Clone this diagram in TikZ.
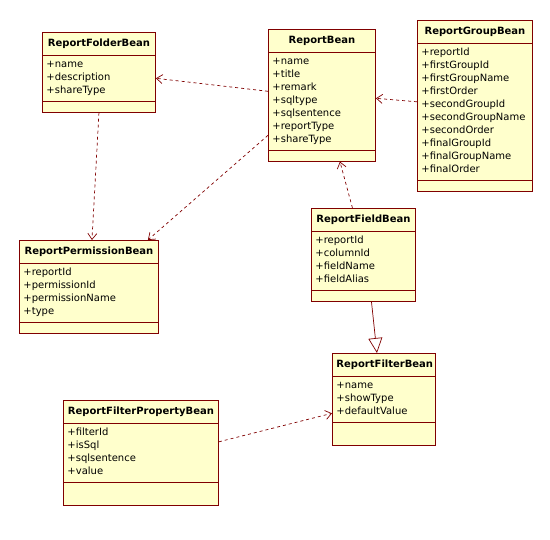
\documentclass[tikz,border=0pt]{standalone}
\usepackage{fontspec}
\setmainfont{DejaVu Sans}
\usetikzlibrary{shapes.multipart,arrows.meta}
\definecolor{beanfill}{RGB}{255,255,204}
\definecolor{beanline}{RGB}{128,0,0}
\begin{document}
\begin{tikzpicture}[x=1pt,y=-1pt,
    bean/.style={rectangle split, rectangle split parts=3, draw=beanline, fill=beanfill,
      line width=0.9pt, anchor=north west, align=left, inner xsep=4pt, inner ysep=3pt,
      font=\fontsize{10}{13}\selectfont},
    dep/.style={draw=beanline, line width=0.7pt, dash pattern=on 3pt off 3pt,
      -{Straight Barb[length=6pt,width=9pt]}},
    gen/.style={draw=beanline, line width=0.7pt, -{Triangle[open,length=15pt,width=14pt,fill=white]}}]
    \useasboundingbox (0,0) rectangle (550,540);
    % Classes
    \node[bean, text width=105pt] (folder) at (42,32)
      {{\centering\bfseries\rule[-5pt]{0pt}{16pt}ReportFolderBean\par}
       \nodepart{two}\strut+name\\\strut+description\\\strut+shareType
       \nodepart{three}\rule{0pt}{4pt}};
    \node[bean, text width=99pt] (report) at (268,29)
      {{\centering\bfseries\rule[-5pt]{0pt}{16pt}ReportBean\par}
       \nodepart{two}\strut+name\\\strut+title\\\strut+remark\\\strut+sqltype\\\strut+sqlsentence\\\strut+reportType\\\strut+shareType
       \nodepart{three}\rule{0pt}{4pt}};
    \node[bean, text width=107pt] (group) at (417,20)
      {{\centering\bfseries\rule[-5pt]{0pt}{16pt}ReportGroupBean\par}
       \nodepart{two}\strut+reportId\\\strut+firstGroupId\\\strut+firstGroupName\\\strut+firstOrder\\\strut+secondGroupId\\\strut+secondGroupName\\\strut+secondOrder\\\strut+finalGroupId\\\strut+finalGroupName\\\strut+finalOrder
       \nodepart{three}\rule{0pt}{4pt}};
    \node[bean, text width=131pt] (permission) at (19,240)
      {{\centering\bfseries\rule[-5pt]{0pt}{16pt}ReportPermissionBean\par}
       \nodepart{two}\strut+reportId\\\strut+permissionId\\\strut+permissionName\\\strut+type
       \nodepart{three}\rule{0pt}{4pt}};
    \node[bean, text width=96pt] (field) at (311,208)
      {{\centering\bfseries\rule[-5pt]{0pt}{16pt}ReportFieldBean\par}
       \nodepart{two}\strut+reportId\\\strut+columnId\\\strut+fieldName\\\strut+fieldAlias
       \nodepart{three}\rule{0pt}{4pt}};
    \node[bean, text width=95pt] (filter) at (332,353)
      {{\centering\bfseries\rule[-5pt]{0pt}{16pt}ReportFilterBean\par}
       \nodepart{two}\strut+name\\\strut+showType\\\strut+defaultValue
       \nodepart{three}\rule{0pt}{16pt}};
    \node[bean, text width=147pt] (property) at (63,400)
      {{\centering\bfseries\rule[-5pt]{0pt}{16pt}ReportFilterPropertyBean\par}
       \nodepart{two}\strut+filterId\\\strut+isSql\\\strut+sqlsentence\\\strut+value
       \nodepart{three}\rule{0pt}{16pt}};
    % Dependencies
    \draw[dep] ([yshift=4pt]report.west) -- ([yshift=-6pt]folder.east);
    \draw[dep] ([yshift=4pt]group.west) -- ([yshift=-3pt]report.east);
    \draw[dep] (folder.south) -- ([xshift=3pt]permission.north);
    \draw[dep] ([yshift=-40pt]report.west) -- ([xshift=-11pt]permission.north east);
    \draw[dep] ([xshift=-11pt]field.north) -- ([xshift=18pt]report.south);
    \draw[dep] ([yshift=11pt]property.east) -- ([yshift=-14pt]filter.west);
    % Generalization
    \draw[gen] ([xshift=8pt]field.south) -- ([xshift=-7pt]filter.north);
\end{tikzpicture}
\end{document}
